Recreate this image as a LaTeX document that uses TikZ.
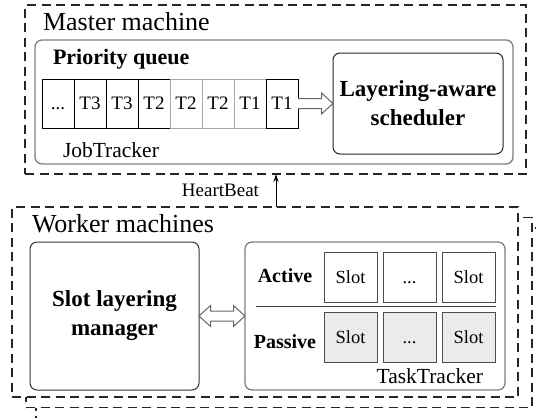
\documentclass[tikz,border=0pt]{standalone}
\usepackage{fontspec}
\setmainfont{Liberation Serif}
\usetikzlibrary{arrows.meta,calc}

\begin{document}
\begin{tikzpicture}[x=1pt,y=-1pt,
  every node/.style={outer sep=0pt},
  box/.style={anchor=north west, inner sep=0pt},
  machine/.style={box, draw=black!85, fill=white, line width=1.3pt,
    dash pattern=on 9pt off 5.5pt},
  panel/.style={box, draw=black!50, fill=white, line width=1.3pt, rounded corners=7pt},
  inner/.style={box, draw=black!80, line width=1pt, rounded corners=7pt, align=center,
    font=\fontsize{23}{29}\selectfont\bfseries},
  cell/.style={box, draw=black, line width=1pt, minimum width=32pt, minimum height=49pt,
    font=\fontsize{19}{22}\selectfont},
  fadedcell/.style={cell, draw=black!35},
  slot/.style={box, draw=black!70, line width=1pt, minimum width=53pt, minimum height=50pt,
    font=\fontsize{18.5}{22}\selectfont},
  passiveslot/.style={slot, fill=black!8},
  title/.style={anchor=base west, inner sep=0pt, font=\fontsize{26}{30}\selectfont},
  label/.style={inner sep=0pt, font=\fontsize{21.5}{26}\selectfont},
  rowlabel/.style={anchor=base, inner sep=0pt, font=\fontsize{20}{24}\selectfont\bfseries},
  hollow/.style={draw=black!60, fill=white, line width=1pt, line join=miter},
]
\useasboundingbox (0,0) rectangle (536,418);
\clip (0,0) rectangle (536,418);

% ---------- master machine ----------
\node[machine, minimum width=501pt, minimum height=169pt] (master) at (25,5) {};
\node[title] (mastertitle) at (43,30) {Master machine};
\node[panel, minimum width=478pt, minimum height=124pt] (jobtracker) at (35,40) {};
\node[label, anchor=base west, font=\fontsize{22}{26}\selectfont\bfseries] (pq) at (53,64) {Priority queue};
\node[label, anchor=base west] (jtlabel) at (63,157) {JobTracker};

% priority queue cells
\node[cell]      (c1) at (42,79)  {\vphantom{T3}...};
\node[cell]      (c2) at (74,79)  {T3};
\node[cell]      (c3) at (106,79) {T3};
\node[cell]      (c4) at (138,79) {T2};
\node[fadedcell] (c5) at (170,79) {T2};
\node[fadedcell] (c6) at (202,79) {T2};
\node[fadedcell] (c7) at (234,79) {T1};
\node[cell]      (c8) at (266,79) {T1};

\node[inner, draw=black!85, minimum width=170pt, minimum height=101pt] (sched) at (333,53)
  {Layering-aware\\scheduler};

% hollow arrow from the queue head to the scheduler
\draw[hollow]
  ($(c8.east)+(0,5)$) -- ($(sched.west)+(-11.5,5)$) -- ($(sched.west)+(-11.5,10.5)$)
  -- (sched.west) -- ($(sched.west)+(-11.5,-10.5)$) -- ($(sched.west)+(-11.5,-5)$)
  -- ($(c8.east)+(0,-5)$);

% ---------- worker machines (stacked) ----------
\node[machine, minimum width=506pt, minimum height=192pt] (w3) at (36,228) {};
\node[machine, minimum width=506pt, minimum height=190pt] (w2) at (26,217.5) {};
\node[machine, minimum width=506pt, minimum height=190pt] (w1) at (12,207) {};
\node[title] (workertitle) at (32,232) {Worker machines};

\node[inner, minimum width=169pt, minimum height=148pt] (slm) at (30,242)
  {Slot layering\\manager};
\node[panel, minimum width=260pt, minimum height=148pt] (tt) at (245,242) {};
\node[label, anchor=base east] (ttlabel) at (483,383) {TaskTracker};

% slots
\node[slot] (a1) at (324,252) {Slot};
\node[slot] (a2) at (383,252) {\vphantom{Slot}...};
\node[slot] (a3) at (442,252) {Slot};
\node[passiveslot] (p1) at (324,312) {Slot};
\node[passiveslot] (p2) at (383,312) {\vphantom{Slot}...};
\node[passiveslot] (p3) at (442,312) {Slot};
\draw[black!75, line width=1pt] (256,306) -- (496,306);
\node[rowlabel] (active) at (285,282) {Active};
\node[rowlabel] (passive) at (285,348) {Passive};

% two-way hollow arrow between manager and TaskTracker
\draw[hollow]
  (slm.east) -- ($(slm.east)+(11.5,-10.5)$) -- ($(slm.east)+(11.5,-5)$)
  -- ($(tt.west)+(-11.5,-5)$) -- ($(tt.west)+(-11.5,-10.5)$) -- (tt.west)
  -- ($(tt.west)+(-11.5,10.5)$) -- ($(tt.west)+(-11.5,5)$)
  -- ($(slm.east)+(11.5,5)$) -- ($(slm.east)+(11.5,10.5)$) -- cycle;

% heartbeat from the workers to the master
\coordinate (hb) at (276,0);
\draw[line width=1pt, -{Stealth[length=8pt,width=5pt]}] (hb |- w1.north) -- (hb |- master.south);
\node[label, anchor=base east, font=\fontsize{19}{22}\selectfont] (hblabel) at (259,196) {HeartBeat};
\end{tikzpicture}
\end{document}
